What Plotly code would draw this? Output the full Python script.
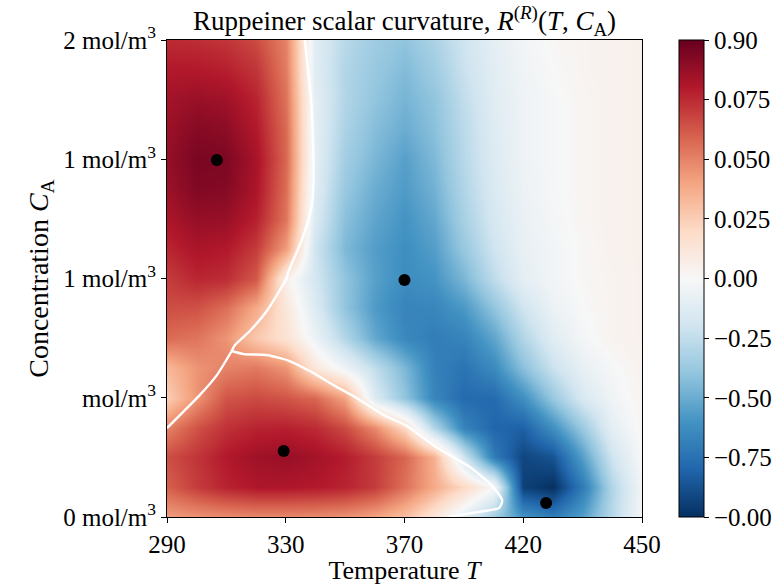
import plotly.graph_objects as go

# ---------------- data ----------------
T_grid = [290, 300, 310, 320, 330, 340, 350, 360, 370, 380, 390, 400, 410, 420, 430, 440, 450]
C_grid = [2.0, 1.875, 1.75, 1.625, 1.5, 1.375, 1.25, 1.125, 1.0,
          0.875, 0.75, 0.625, 0.5, 0.375, 0.25, 0.125, 0.0]  # top -> bottom

# curvature (colour-normalised), rows top -> bottom
R_rows = [
    [0.75, 0.74, 0.72, 0.66, 0.50, -0.12, -0.28, -0.36, -0.40, -0.32, -0.20, -0.10, -0.03, 0.01, 0.03, 0.04, 0.05],
    [0.80, 0.80, 0.78, 0.72, 0.52, -0.12, -0.30, -0.38, -0.44, -0.36, -0.22, -0.11, -0.04, 0.00, 0.03, 0.04, 0.05],
    [0.84, 0.87, 0.85, 0.77, 0.55, -0.10, -0.30, -0.40, -0.47, -0.40, -0.25, -0.12, -0.05, -0.01, 0.02, 0.04, 0.05],
    [0.86, 0.92, 0.90, 0.80, 0.57, -0.10, -0.32, -0.43, -0.50, -0.42, -0.27, -0.13, -0.05, -0.01, 0.02, 0.04, 0.05],
    [0.88, 0.95, 0.94, 0.83, 0.58, -0.10, -0.35, -0.46, -0.55, -0.45, -0.28, -0.14, -0.05, -0.01, 0.02, 0.04, 0.05],
    [0.86, 0.93, 0.92, 0.82, 0.56, -0.12, -0.38, -0.50, -0.57, -0.48, -0.30, -0.15, -0.06, -0.01, 0.02, 0.04, 0.05],
    [0.82, 0.88, 0.87, 0.78, 0.54, -0.15, -0.42, -0.53, -0.60, -0.52, -0.33, -0.17, -0.07, -0.02, 0.02, 0.04, 0.05],
    [0.76, 0.82, 0.80, 0.70, 0.42, -0.20, -0.45, -0.56, -0.62, -0.56, -0.38, -0.20, -0.08, -0.03, 0.01, 0.04, 0.05],
    [0.70, 0.76, 0.74, 0.62, 0.05, -0.18, -0.40, -0.55, -0.63, -0.60, -0.46, -0.26, -0.10, -0.03, 0.01, 0.03, 0.05],
    [0.65, 0.64, 0.56, 0.38, 0.12, -0.14, -0.40, -0.57, -0.67, -0.66, -0.58, -0.40, -0.20, -0.06, 0.00, 0.03, 0.05],
    [0.57, 0.54, 0.45, 0.27, 0.15, -0.06, -0.30, -0.52, -0.65, -0.70, -0.67, -0.53, -0.30, -0.12, -0.02, 0.03, 0.05],
    [0.33, 0.45, 0.50, 0.53, 0.45, 0.12, -0.05, -0.25, -0.46, -0.68, -0.74, -0.64, -0.42, -0.22, -0.08, -0.01, 0.04],
    [0.25, 0.45, 0.63, 0.66, 0.63, 0.58, 0.40, -0.15, -0.40, -0.66, -0.78, -0.78, -0.62, -0.38, -0.16, -0.04, 0.03],
    [0.50, 0.64, 0.73, 0.77, 0.78, 0.75, 0.66, 0.48, 0.20, -0.30, -0.67, -0.80, -0.82, -0.62, -0.37, -0.10, 0.02],
    [0.65, 0.72, 0.80, 0.85, 0.87, 0.84, 0.79, 0.70, 0.58, 0.36, -0.20, -0.70, -0.92, -0.87, -0.55, -0.20, 0.00],
    [0.60, 0.70, 0.77, 0.81, 0.81, 0.80, 0.77, 0.70, 0.55, 0.38, 0.20, 0.00, -0.94, -1.00, -0.70, -0.30, -0.03],
    [0.42, 0.45, 0.47, 0.48, 0.48, 0.47, 0.45, 0.40, 0.30, 0.12, -0.10, -0.35, -0.60, -0.70, -0.55, -0.28, -0.02],
]

# zero-curvature (white) lines
upper_T = [336.4, 338.7, 339.4, 338.7, 335.4, 330.7, 330.3, 323.6, 317.9, 312.9, 311.8]
upper_C = [2.0, 1.719, 1.442, 1.300, 1.161, 1.023, 1.002, 0.864, 0.780, 0.721, 0.696]
right_T = [311.8, 315.9, 323.6, 331.3, 338.1, 346.1, 353.9, 362.9, 370.7, 381.1, 392.5, 399.2, 402.9, 401.9, 396.9, 388.5, 385.1]
right_C = [0.696, 0.683, 0.679, 0.654, 0.612, 0.553, 0.499, 0.428, 0.382, 0.289, 0.205, 0.134, 0.071, 0.038, 0.025, 0.008, 0.0]
left_T = [311.8, 306.8, 301.1, 295.7, 290.0]
left_C = [0.696, 0.595, 0.512, 0.444, 0.373]

# critical points
pts_T = [306.8, 370.0, 329.3, 417.7]
pts_C = [1.497, 0.994, 0.277, 0.059]

# ticks
x_tickvals = [290, 330, 370, 410, 450]
x_ticktext = ["290", "330", "370", "420", "450"]
y_tickvals = [0, 0.5, 1.0, 1.5, 2.0]
y_ticktext = ["0 mol/m<sup>3</sup>", "mol/m<sup>3</sup>", "1 mol/m<sup>3</sup>",
              "1 mol/m<sup>3</sup>", "2 mol/m<sup>3</sup>"]
cb_tickvals = [-1, -0.75, -0.5, -0.25, 0, 0.25, 0.5, 0.75, 1]
cb_ticktext = ["−0.00", "−0.75", "−0.50", "−0.25", "0.00", "0.025", "0.050", "0.075", "0.90"]

# colour map (colorbrewer RdBu reversed)
rdbu_r = ['rgb(5,48,97)', 'rgb(33,102,172)', 'rgb(67,147,195)', 'rgb(146,197,222)',
          'rgb(209,229,240)', 'rgb(247,247,247)', 'rgb(253,219,199)', 'rgb(244,165,130)',
          'rgb(214,96,77)', 'rgb(178,24,43)', 'rgb(103,0,31)']
colorscale = [[i / (len(rdbu_r) - 1), c] for i, c in enumerate(rdbu_r)]

FONT = "Liberation Serif"
TICK_FS = 25
LAB_FS = 27

fig = go.Figure()
fig.add_trace(go.Heatmap(
    x=T_grid, y=C_grid[::-1], z=R_rows[::-1],
    zmin=-1, zmax=1, zsmooth="best", colorscale=colorscale,
    colorbar=dict(
        thickness=25, len=1, lenmode="fraction", y=0.5, yanchor="middle",
        x=1.0756, xanchor="left", xpad=0, ypad=0,
        outlinewidth=1, outlinecolor="black",
        tickvals=cb_tickvals, ticktext=cb_ticktext,
        ticks="outside", ticklen=5, tickcolor="black",
        tickfont=dict(family=FONT, size=TICK_FS, color="black"),
    ),
    hoverinfo="skip",
))

for tx, cy in [(upper_T, upper_C), (right_T, right_C), (left_T, left_C)]:
    fig.add_trace(go.Scatter(x=tx, y=cy, mode="lines",
                             line=dict(color="white", width=2.4, shape="spline", smoothing=0.6),
                             showlegend=False, hoverinfo="skip"))

fig.add_trace(go.Scatter(x=pts_T, y=pts_C, mode="markers",
                         marker=dict(color="black", size=12),
                         showlegend=False, cliponaxis=False))

axis_common = dict(showline=True, linecolor="black", linewidth=1, mirror=True,
                   ticks="outside", ticklen=5, tickcolor="black", showgrid=False,
                   zeroline=False, automargin=False,
                   tickfont=dict(family=FONT, size=TICK_FS, color="black"))

fig.update_layout(
    width=784, height=585,
    margin=dict(l=167, r=141, t=40, b=68),
    paper_bgcolor="white", plot_bgcolor="white",
    showlegend=False,
    title=dict(text="Ruppeiner scalar curvature, <i>R</i><sup>(<i>R</i>)</sup>(<i>T</i>, <i>C</i><sub>A</sub>)",
               x=0.5, xref="paper", xanchor="center", y=0.981, yanchor="top",
               font=dict(family=FONT, size=LAB_FS, color="black")),
    xaxis=dict(range=[290, 450], tickvals=x_tickvals, ticktext=x_ticktext,
               title=dict(text="Temperature <i>T</i>", font=dict(family=FONT, size=26, color="black"), standoff=8),
               **axis_common),
    yaxis=dict(range=[0, 2], tickvals=y_tickvals, ticktext=y_ticktext,
               title=dict(text="Concentration <i>C</i><sub>A</sub>", font=dict(family=FONT, size=LAB_FS + 1, color="black"), standoff=6),
               **axis_common),
)

fig.write_html("out.html")
